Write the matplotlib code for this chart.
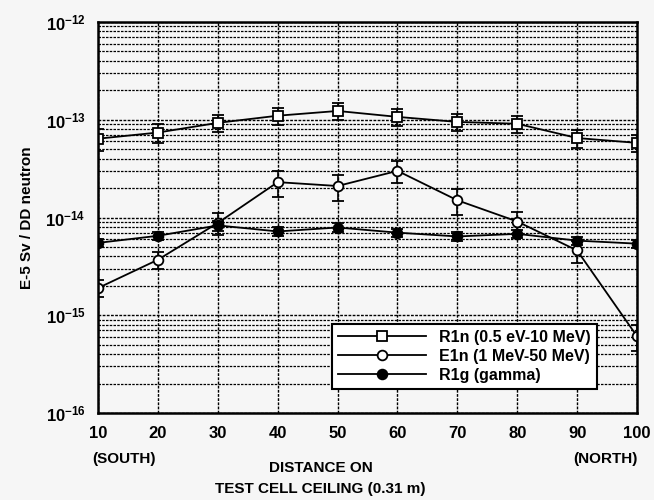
import numpy as np
import matplotlib.pyplot as plt
from matplotlib.lines import Line2D
from matplotlib.ticker import FixedLocator, NullFormatter

plt.rcParams['font.family'] = ['Liberation Sans', 'DejaVu Sans']

# distance along the ceiling
dist = [10, 20, 30, 40, 50, 60, 70, 80, 90, 100]

# dose per DD neutron (E-5 Sv)
r1n = [6.4e-14, 7.4e-14, 9.3e-14, 1.1e-13, 1.23e-13, 1.07e-13, 9.5e-14, 9.1e-14, 6.5e-14, 5.8e-14]
e1n = [1.9e-15, 3.7e-15, 8.8e-15, 2.3e-14, 2.1e-14, 3.0e-14, 1.5e-14, 9.1e-15, 4.6e-15, 6.1e-16]
r1g = [5.5e-15, 6.5e-15, 8.3e-15, 7.2e-15, 7.9e-15, 7.0e-15, 6.4e-15, 6.8e-15, 5.8e-15, 5.4e-15]

# relative errors
r1n_err = [0.25, 0.22, 0.2, 0.2, 0.2, 0.2, 0.2, 0.2, 0.2, 0.2]
e1n_err = [0.2, 0.2, 0.25, 0.3, 0.3, 0.25, 0.3, 0.25, 0.25, 0.3]
r1g_err = [0.1, 0.1, 0.12, 0.1, 0.1, 0.1, 0.1, 0.1, 0.1, 0.1]

labels = ['R1n (0.5 eV-10 MeV)', 'E1n (1 MeV-50 MeV)', 'R1g (gamma)']

bg = '#f6f6f6'
fig = plt.figure(figsize=(6.54, 5.0), dpi=100, facecolor=bg)
ax = fig.add_axes([0.150, 0.174, 0.824, 0.782], facecolor=bg)

handles = []
def draw(y, err, marker, face, label):
    y = np.array(y)
    e = np.array(err) * y
    style = dict(color='black', lw=1.3, marker=marker, markersize=7,
                 markerfacecolor=face, markeredgecolor='black', markeredgewidth=1.3)
    ax.errorbar(dist, y, yerr=e, capsize=4, elinewidth=1.2, **style)
    handles.append(Line2D([], [], label=label, **style))

draw(r1n, r1n_err, 's', 'white', labels[0])
draw(e1n, e1n_err, 'o', 'white', labels[1])
draw(r1g, r1g_err, 'o', 'black', labels[2])

ax.set_yscale('log')
ax.set_xlim(10, 100)
ax.set_ylim(1e-16, 1e-12)
ax.set_xticks(dist)
decades = 10.0 ** np.arange(-16, -11)
ax.set_yticks(decades)
minor = np.concatenate([d * np.arange(2, 10) for d in decades[:-1]])
ax.yaxis.set_minor_locator(FixedLocator(minor))
ax.yaxis.set_minor_formatter(NullFormatter())

ax.grid(True, which='major', color='black', linestyle=(0, (2, 1)), lw=1.0)
ax.grid(True, which='minor', axis='y', color='black', linestyle=(0, (2, 1)), lw=0.9)
ax.tick_params(which='both', length=0, labelsize=12, pad=9)
ax.tick_params(which='minor', labelleft=False)
for lab in ax.get_xticklabels() + ax.get_yticklabels():
    lab.set_fontweight('bold')
for s in ax.spines.values():
    s.set_linewidth(1.8)

ax.set_ylabel('E-5 Sv / DD neutron', fontsize=11, fontweight='bold', labelpad=8)

fig.text(0.19, 0.075, '(SOUTH)', ha='center', fontsize=11, fontweight='bold')
fig.text(0.925, 0.075, '(NORTH)', ha='center', fontsize=11, fontweight='bold')
fig.text(0.49, 0.055, 'DISTANCE ON', ha='center', fontsize=11, fontweight='bold')
fig.text(0.49, 0.015, 'TEST CELL CEILING (0.31 m)', ha='center', fontsize=11, fontweight='bold')

leg = ax.legend(handles=handles, loc='lower right', bbox_to_anchor=(0.94, 0.04),
                fontsize=11.5, frameon=True, fancybox=False, framealpha=1,
                edgecolor='black', handlelength=5.5, borderpad=0.4, labelspacing=0.25)
leg.get_frame().set_linewidth(1.5)
for t in leg.get_texts():
    t.set_fontweight('bold')

fig.savefig('out.png', dpi=100, facecolor=bg)
